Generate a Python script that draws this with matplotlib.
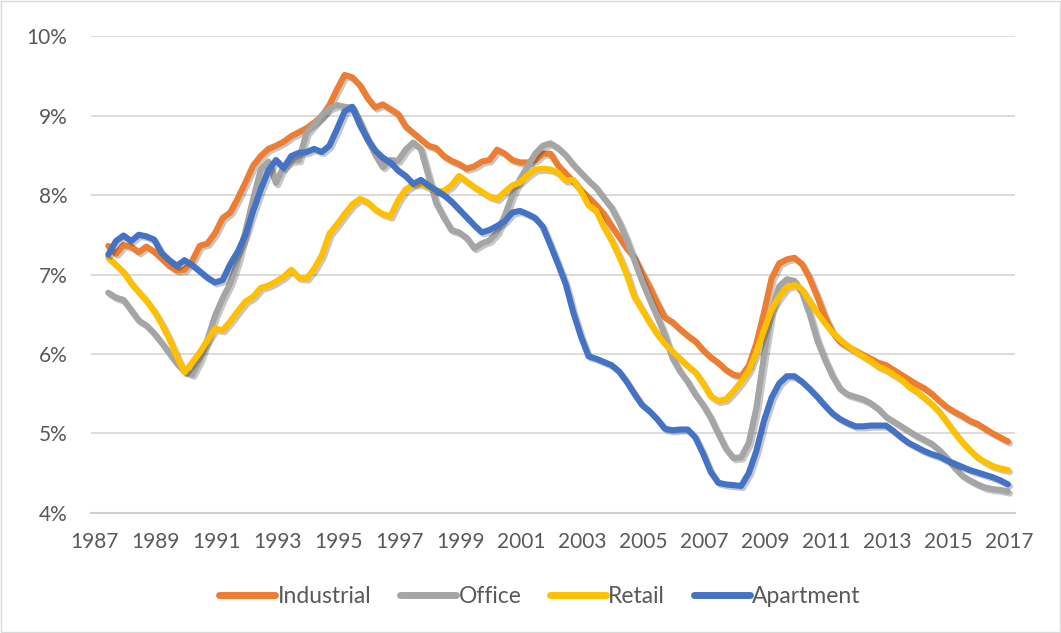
import matplotlib
matplotlib.use("Agg")
import matplotlib.pyplot as plt
import matplotlib.patheffects as pe
import numpy as np

plt.rcParams["font.family"] = ["Lato", "DejaVu Sans"]

# quarterly cap rates (%), first quarter ~ mid 1987, last ~ end 2016
start_year = 1987.45

industrial = [
    7.36, 7.26, 7.37, 7.35, 7.28, 7.35, 7.29, 7.20, 7.11, 7.05,
    7.06, 7.17, 7.36, 7.39, 7.52, 7.71, 7.78, 7.96, 8.16, 8.37,
    8.49, 8.58, 8.62, 8.67, 8.74, 8.79, 8.84, 8.91, 8.99, 9.13,
    9.33, 9.51, 9.48, 9.38, 9.22, 9.10, 9.14, 9.08, 9.02, 8.86,
    8.78, 8.70, 8.62, 8.59, 8.49, 8.43, 8.39, 8.33, 8.36, 8.42,
    8.44, 8.57, 8.52, 8.44, 8.41, 8.41, 8.44, 8.52, 8.52, 8.37,
    8.27, 8.17, 8.06, 7.97, 7.87, 7.76, 7.61, 7.47, 7.33, 7.21,
    7.02, 6.84, 6.64, 6.46, 6.40, 6.31, 6.23, 6.16, 6.05, 5.96,
    5.89, 5.80, 5.74, 5.72, 5.85, 6.13, 6.52, 6.95, 7.14, 7.19,
    7.21, 7.13, 6.95, 6.72, 6.47, 6.27, 6.15, 6.09, 6.04, 5.99,
    5.94, 5.89, 5.86, 5.80, 5.74, 5.68, 5.62, 5.57, 5.50, 5.41,
    5.33, 5.27, 5.22, 5.16, 5.12, 5.06, 5.00, 4.95, 4.90,
]

office = [
    6.77, 6.71, 6.68, 6.55, 6.42, 6.36, 6.26, 6.14, 6.01, 5.88,
    5.78, 5.74, 5.92, 6.18, 6.48, 6.70, 6.89, 7.17, 7.55, 7.95,
    8.32, 8.42, 8.15, 8.36, 8.43, 8.44, 8.78, 8.89, 9.00, 9.09,
    9.13, 9.11, 9.10, 8.92, 8.70, 8.51, 8.35, 8.44, 8.43, 8.57,
    8.66, 8.58, 8.24, 7.90, 7.72, 7.56, 7.53, 7.46, 7.33, 7.39,
    7.43, 7.53, 7.74, 8.00, 8.20, 8.36, 8.52, 8.62, 8.65, 8.59,
    8.50, 8.38, 8.28, 8.18, 8.09, 7.96, 7.84, 7.66, 7.44, 7.18,
    6.92, 6.69, 6.47, 6.24, 5.95, 5.78, 5.65, 5.49, 5.36, 5.20,
    5.00, 4.81, 4.69, 4.70, 4.88, 5.32, 5.97, 6.55, 6.85, 6.94,
    6.92, 6.77, 6.50, 6.17, 5.93, 5.72, 5.56, 5.49, 5.46, 5.43,
    5.38, 5.31, 5.21, 5.15, 5.09, 5.03, 4.97, 4.92, 4.87, 4.79,
    4.69, 4.57, 4.47, 4.41, 4.36, 4.32, 4.30, 4.29, 4.27,
]

retail = [
    7.21, 7.12, 7.03, 6.89, 6.78, 6.67, 6.54, 6.38, 6.19, 5.97,
    5.77, 5.89, 6.02, 6.17, 6.32, 6.30, 6.41, 6.54, 6.66, 6.72,
    6.83, 6.86, 6.91, 6.97, 7.06, 6.96, 6.95, 7.07, 7.24, 7.51,
    7.63, 7.76, 7.88, 7.95, 7.91, 7.82, 7.76, 7.73, 7.93, 8.07,
    8.13, 8.14, 8.10, 8.05, 8.05, 8.12, 8.24, 8.17, 8.10, 8.04,
    7.98, 7.95, 8.04, 8.12, 8.16, 8.25, 8.32, 8.33, 8.32, 8.28,
    8.18, 8.19, 8.05, 7.87, 7.80, 7.60, 7.43, 7.23, 7.00, 6.72,
    6.56, 6.40, 6.25, 6.13, 6.03, 5.94, 5.85, 5.77, 5.63, 5.47,
    5.41, 5.43, 5.53, 5.65, 5.79, 6.02, 6.30, 6.56, 6.72, 6.84,
    6.87, 6.81, 6.66, 6.52, 6.39, 6.27, 6.18, 6.10, 6.03, 5.97,
    5.91, 5.84, 5.80, 5.74, 5.68, 5.59, 5.53, 5.45, 5.37, 5.27,
    5.14, 5.01, 4.89, 4.79, 4.70, 4.64, 4.59, 4.56, 4.54,
]

apartment = [
    7.25, 7.42, 7.49, 7.42, 7.50, 7.48, 7.44, 7.27, 7.18, 7.11,
    7.18, 7.12, 7.04, 6.96, 6.90, 6.93, 7.13, 7.29, 7.50, 7.80,
    8.07, 8.31, 8.44, 8.34, 8.49, 8.53, 8.54, 8.58, 8.54, 8.62,
    8.83, 9.05, 9.11, 8.88, 8.70, 8.56, 8.47, 8.41, 8.31, 8.24,
    8.14, 8.19, 8.12, 8.06, 8.00, 7.92, 7.82, 7.72, 7.62, 7.53,
    7.56, 7.61, 7.67, 7.78, 7.80, 7.76, 7.71, 7.60, 7.37, 7.13,
    6.88, 6.52, 6.22, 5.97, 5.94, 5.90, 5.86, 5.78, 5.65, 5.50,
    5.36, 5.28, 5.18, 5.06, 5.04, 5.05, 5.05, 4.95, 4.75, 4.52,
    4.38, 4.36, 4.35, 4.34, 4.50, 4.78, 5.16, 5.45, 5.63, 5.72,
    5.72, 5.65, 5.56, 5.46, 5.35, 5.25, 5.18, 5.13, 5.09, 5.09,
    5.10, 5.10, 5.10, 5.03, 4.95, 4.88, 4.83, 4.78, 4.74, 4.71,
    4.66, 4.62, 4.58, 4.54, 4.51, 4.48, 4.45, 4.41, 4.36,
]

series = [
    ("Industrial", industrial, "#ED7D31"),
    ("Office", office, "#A5A5A5"),
    ("Retail", retail, "#FFC000"),
    ("Apartment", apartment, "#4472C4"),
]

year_ticks = list(range(1987, 2018, 2))
pct_ticks = [4, 5, 6, 7, 8, 9, 10]

fig = plt.figure(figsize=(10.61, 6.33), dpi=100)
ax = fig.add_axes([0.0858, 0.1896, 0.8708, 0.7535])

x = start_year + 0.25 * np.arange(len(industrial))
shadow = [pe.SimpleLineShadow(offset=(1.5, -1.5), shadow_color="k", alpha=0.22),
          pe.Normal()]
for name, vals, col in series:
    ax.plot(x, vals, color=col, lw=4.4, label=name,
            solid_joinstyle="round", solid_capstyle="round",
            path_effects=shadow)

ax.set_xlim(1986.885, 2017.18)
ax.set_ylim(4, 10)
ax.set_xticks(year_ticks)
ax.set_xticklabels([str(y) for y in year_ticks])
ax.set_yticks(pct_ticks)
ax.set_yticklabels([f"{p}%" for p in pct_ticks])

ax.grid(axis="y", color="#D9D9D9", lw=1.3)
ax.set_axisbelow(True)
for s in ["top", "right", "left"]:
    ax.spines[s].set_visible(False)
ax.spines["bottom"].set_color("#D0D0D0")
ax.spines["bottom"].set_linewidth(1.5)
ax.tick_params(length=0, labelsize=15, colors="#595959")
ax.tick_params(axis="x", pad=14)
ax.tick_params(axis="y", pad=17)

leg = fig.legend(loc="center", bbox_to_anchor=(0.509, 0.057), ncol=4,
                 frameon=False, fontsize=16.5, handlelength=2.45,
                 handletextpad=0.1, columnspacing=1.25, labelcolor="#595959")
for h in leg.get_lines():
    h.set_linewidth(5)
    h.set_solid_capstyle("round")
    h.set_path_effects([])

fig.patches.append(plt.Rectangle((0.001, 0.001), 0.998, 0.997,
                                 transform=fig.transFigure, fill=False,
                                 edgecolor="#D9D9D9", lw=1))

fig.savefig("out.png", dpi=100)
